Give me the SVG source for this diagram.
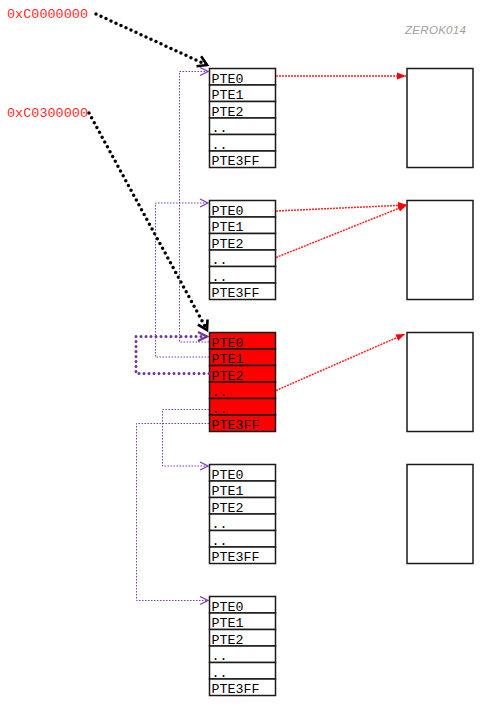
<svg xmlns="http://www.w3.org/2000/svg" width="484" height="708" viewBox="0 0 484 708">
<style>
.cell{fill:#fff;stroke:#1a1a1a;stroke-width:1.5}
.red .cell{fill:#ff0000}
.t{font-family:"Liberation Mono","Courier New",monospace;font-size:13.3px;fill:#000}
.addr{font-family:"Liberation Mono","Courier New",monospace;font-size:13.5px;fill:#ff2a2a}
.page{fill:#fff;stroke:#1a1a1a;stroke-width:1.5}
.pthin{fill:none;stroke:#7a3db8;stroke-width:1;stroke-dasharray:1.5 1.5}
.pthick{fill:none;stroke:#7030a0;stroke-width:3;stroke-dasharray:0 5;stroke-linecap:round}
.rline{fill:none;stroke:#ff2020;stroke-width:1.5;stroke-dasharray:2 1}
.bline{fill:none;stroke:#000;stroke-width:3.5;stroke-dasharray:0 5.5;stroke-linecap:round}
.wm{font-family:"Liberation Sans",sans-serif;font-style:italic;font-size:11.5px;fill:#a0a0a0;letter-spacing:0.3px}
</style>
<defs>
<marker id="pa" markerWidth="10" markerHeight="10" refX="9" refY="5" orient="auto" markerUnits="userSpaceOnUse"><path d="M1,1 L9,5 L1,9" fill="none" stroke="#7a3db8" stroke-width="1.3"/></marker>
<marker id="pat" markerWidth="12" markerHeight="12" refX="10" refY="6" orient="auto" markerUnits="userSpaceOnUse"><path d="M1,1.5 L10,6 L1,10.5" fill="none" stroke="#7030a0" stroke-width="2.2"/></marker>
<marker id="ra" markerWidth="10" markerHeight="10" refX="9" refY="5" orient="auto" markerUnits="userSpaceOnUse"><path d="M0,1.5 L9,5 L0,8.5 Z" fill="#ff0000"/></marker>
<marker id="ba" markerWidth="14" markerHeight="14" refX="11" refY="7" orient="auto" markerUnits="userSpaceOnUse"><path d="M2,1.5 L11,7 L2,12.5" fill="none" stroke="#000" stroke-width="2.6"/></marker>
</defs>
<rect width="484" height="708" fill="#fff"/>
<text class="wm" x="405" y="34">ZEROK014</text>
<g id="label-c0000000"><text class="addr" x="7" y="17.5">0xC0000000</text></g>
<g id="label-c0300000"><text class="addr" x="7" y="116.5">0xC0300000</text></g>

<g id="table1" transform="translate(209.5,68.5)">
<rect class="cell" x="0" y="0" width="66" height="16.5"/><rect class="cell" x="0" y="16.5" width="66" height="16.5"/><rect class="cell" x="0" y="33" width="66" height="16.5"/><rect class="cell" x="0" y="49.5" width="66" height="16.5"/><rect class="cell" x="0" y="66" width="66" height="16.5"/><rect class="cell" x="0" y="82.5" width="66" height="16.5"/>
<text class="t" x="2" y="14">PTE0</text><text class="t" x="2" y="30.5">PTE1</text><text class="t" x="2" y="47">PTE2</text><text class="t" x="2" y="63.5">..</text><text class="t" x="2" y="80">..</text><text class="t" x="2" y="96.5">PTE3FF</text>
</g>
<g id="table2" transform="translate(209.5,200.5)">
<rect class="cell" x="0" y="0" width="66" height="16.5"/><rect class="cell" x="0" y="16.5" width="66" height="16.5"/><rect class="cell" x="0" y="33" width="66" height="16.5"/><rect class="cell" x="0" y="49.5" width="66" height="16.5"/><rect class="cell" x="0" y="66" width="66" height="16.5"/><rect class="cell" x="0" y="82.5" width="66" height="16.5"/>
<text class="t" x="2" y="14">PTE0</text><text class="t" x="2" y="30.5">PTE1</text><text class="t" x="2" y="47">PTE2</text><text class="t" x="2" y="63.5">..</text><text class="t" x="2" y="80">..</text><text class="t" x="2" y="96.5">PTE3FF</text>
</g>
<g id="table3" class="red" transform="translate(209.5,332.5)">
<rect class="cell" x="0" y="0" width="66" height="16.5"/><rect class="cell" x="0" y="16.5" width="66" height="16.5"/><rect class="cell" x="0" y="33" width="66" height="16.5"/><rect class="cell" x="0" y="49.5" width="66" height="16.5"/><rect class="cell" x="0" y="66" width="66" height="16.5"/><rect class="cell" x="0" y="82.5" width="66" height="16.5"/>
<text class="t" x="2" y="14">PTE0</text><text class="t" x="2" y="30.5">PTE1</text><text class="t" x="2" y="47">PTE2</text><text class="t" x="2" y="63.5">..</text><text class="t" x="2" y="80">..</text><text class="t" x="2" y="96.5">PTE3FF</text>
</g>
<g id="table4" transform="translate(209.5,464.5)">
<rect class="cell" x="0" y="0" width="66" height="16.5"/><rect class="cell" x="0" y="16.5" width="66" height="16.5"/><rect class="cell" x="0" y="33" width="66" height="16.5"/><rect class="cell" x="0" y="49.5" width="66" height="16.5"/><rect class="cell" x="0" y="66" width="66" height="16.5"/><rect class="cell" x="0" y="82.5" width="66" height="16.5"/>
<text class="t" x="2" y="14">PTE0</text><text class="t" x="2" y="30.5">PTE1</text><text class="t" x="2" y="47">PTE2</text><text class="t" x="2" y="63.5">..</text><text class="t" x="2" y="80">..</text><text class="t" x="2" y="96.5">PTE3FF</text>
</g>
<g id="table5" transform="translate(209.5,596.5)">
<rect class="cell" x="0" y="0" width="66" height="16.5"/><rect class="cell" x="0" y="16.5" width="66" height="16.5"/><rect class="cell" x="0" y="33" width="66" height="16.5"/><rect class="cell" x="0" y="49.5" width="66" height="16.5"/><rect class="cell" x="0" y="66" width="66" height="16.5"/><rect class="cell" x="0" y="82.5" width="66" height="16.5"/>
<text class="t" x="2" y="14">PTE0</text><text class="t" x="2" y="30.5">PTE1</text><text class="t" x="2" y="47">PTE2</text><text class="t" x="2" y="63.5">..</text><text class="t" x="2" y="80">..</text><text class="t" x="2" y="96.5">PTE3FF</text>
</g>

<g id="page1"><rect class="page" x="407" y="68.5" width="66" height="99"/></g>
<g id="page2"><rect class="page" x="407" y="200.5" width="66" height="99"/></g>
<g id="page3"><rect class="page" x="407" y="332.5" width="66" height="99"/></g>
<g id="page4"><rect class="page" x="407" y="464.5" width="66" height="99"/></g>

<g id="connectors">
<path class="bline" d="M96,14 L207,65" marker-end="url(#ba)"/>
<path class="bline" d="M89,113 L207,330" marker-end="url(#ba)"/>
<path class="pthin" d="M209,342 H179.5 V71.5 H208" marker-end="url(#pa)"/>
<path class="pthin" d="M209,357 H155.5 V203 H208" marker-end="url(#pa)"/>
<path class="pthick" d="M209,373.5 H136 V336.5 H207" marker-end="url(#pat)"/>
<path class="pthin" d="M209,409.5 H162.5 V466 H208" marker-end="url(#pa)"/>
<path class="pthin" d="M209,423.5 H136.5 V600.5 H208" marker-end="url(#pa)"/>
<path class="rline" d="M276,76 L406,76" marker-end="url(#ra)"/>
<path class="rline" d="M276,211 L407,205" marker-end="url(#ra)"/>
<path class="rline" d="M276,257.5 L407,205" marker-end="url(#ra)"/>
<path class="rline" d="M276,390.5 L405,334" marker-end="url(#ra)"/>
</g>
</svg>
